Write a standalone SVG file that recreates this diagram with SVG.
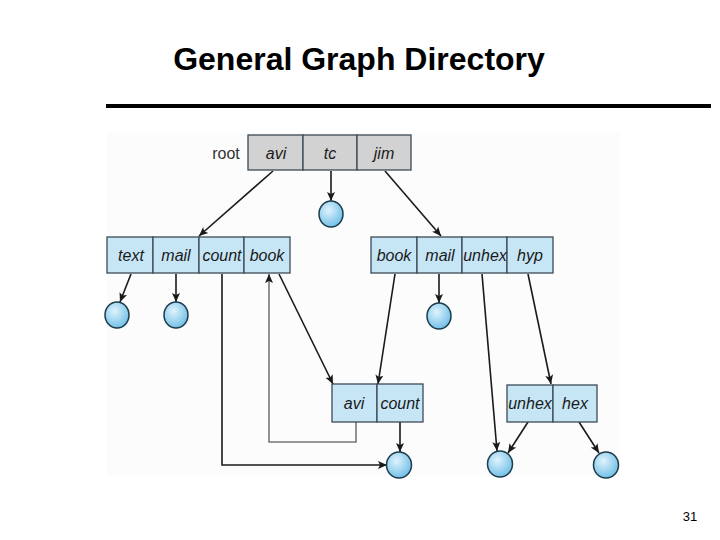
<svg xmlns="http://www.w3.org/2000/svg" width="720" height="540" viewBox="0 0 720 540">
<style>
.title{font-family:"Liberation Sans",Arial,sans-serif;font-weight:bold;font-size:32px;fill:#000}
.lbl{font-family:"Liberation Sans",Arial,sans-serif;font-style:italic;font-size:16px;fill:#1a1a1a}
.root{font-family:"Liberation Sans",Arial,sans-serif;font-size:16px;fill:#333}
.cell{fill:#c6e6f6;stroke:#3c4a55;stroke-width:1.3}
.rcell{fill:#d2d2d2;stroke:#3c4a55;stroke-width:1.3}
.file{fill:url(#g);stroke:#1d3c4c;stroke-width:1.5}
.con{fill:none;stroke:#1a1a1a;stroke-width:1.6}
.back{fill:none;stroke:#777;stroke-width:1.6}
</style>
<defs>
<radialGradient id="g" cx="0.4" cy="0.35" r="0.7">
<stop offset="0" stop-color="#dff3fd"/>
<stop offset="1" stop-color="#6cbde6"/>
</radialGradient>
<marker id="a" markerUnits="userSpaceOnUse" markerWidth="10" markerHeight="10" refX="9" refY="5" orient="auto">
<path d="M0,1 L9,5 L0,9 L2,5 Z" fill="#1a1a1a"/>
</marker>
</defs>
<rect width="720" height="540" fill="#fff"/>
<rect x="107" y="133" width="513" height="343" fill="#fcfcfc"/>
<text class="title" x="359" y="70" text-anchor="middle">General Graph Directory</text>
<rect x="106" y="104" width="605" height="4" fill="#000"/>

<g id="connectors">
<line class="con" x1="273" y1="171" x2="199" y2="236" marker-end="url(#a)"/>
<line class="con" x1="331" y1="171" x2="331" y2="201" marker-end="url(#a)"/>
<line class="con" x1="385" y1="171" x2="441" y2="236" marker-end="url(#a)"/>
<line class="con" x1="131" y1="274" x2="120" y2="302" marker-end="url(#a)"/>
<line class="con" x1="176" y1="274" x2="176" y2="302" marker-end="url(#a)"/>
<line class="con" x1="439" y1="274" x2="439" y2="303" marker-end="url(#a)"/>
<line class="con" x1="279" y1="274" x2="333" y2="384" marker-end="url(#a)"/>
<line class="con" x1="395" y1="274" x2="378" y2="384" marker-end="url(#a)"/>
<polyline class="back" points="356,422 356,442 269,442 269,274" marker-end="url(#a)"/>
<polyline class="con" points="222,274 222,465 387,465" marker-end="url(#a)"/>
<line class="con" x1="400" y1="422" x2="400" y2="452" marker-end="url(#a)"/>
<line class="con" x1="482" y1="274" x2="497" y2="451" marker-end="url(#a)"/>
<line class="con" x1="528" y1="274" x2="551" y2="384" marker-end="url(#a)"/>
<line class="con" x1="528" y1="422" x2="508" y2="453" marker-end="url(#a)"/>
<line class="con" x1="579" y1="422" x2="599" y2="453" marker-end="url(#a)"/>
</g>

<g id="root">
<text class="root" x="226" y="159" text-anchor="middle">root</text>
<rect class="rcell" x="248" y="135" width="55" height="35"/>
<rect class="rcell" x="303" y="135" width="54" height="35"/>
<rect class="rcell" x="357" y="135" width="54" height="35"/>
<text class="lbl" x="276" y="159" text-anchor="middle">avi</text>
<text class="lbl" x="330" y="159" text-anchor="middle">tc</text>
<text class="lbl" x="384" y="159" text-anchor="middle">jim</text>
</g>

<g id="avi-dir">
<rect class="cell" x="107" y="237" width="46" height="36"/>
<rect class="cell" x="153" y="237" width="46" height="36"/>
<rect class="cell" x="199" y="237" width="45" height="36"/>
<rect class="cell" x="244" y="237" width="46" height="36"/>
<text class="lbl" x="131" y="261" text-anchor="middle">text</text>
<text class="lbl" x="176" y="261" text-anchor="middle">mail</text>
<text class="lbl" x="222" y="261" text-anchor="middle">count</text>
<text class="lbl" x="267" y="261" text-anchor="middle">book</text>
</g>

<g id="jim-dir">
<rect class="cell" x="371" y="237" width="46" height="36"/>
<rect class="cell" x="417" y="237" width="45" height="36"/>
<rect class="cell" x="462" y="237" width="45" height="36"/>
<rect class="cell" x="507" y="237" width="46" height="36"/>
<text class="lbl" x="394" y="261" text-anchor="middle">book</text>
<text class="lbl" x="440" y="261" text-anchor="middle">mail</text>
<text class="lbl" x="485" y="261" text-anchor="middle">unhex</text>
<text class="lbl" x="530" y="261" text-anchor="middle">hyp</text>
</g>

<g id="book-dir">
<rect class="cell" x="332" y="384" width="45" height="38"/>
<rect class="cell" x="377" y="384" width="46" height="38"/>
<text class="lbl" x="354" y="409" text-anchor="middle">avi</text>
<text class="lbl" x="400" y="409" text-anchor="middle">count</text>
</g>

<g id="hyp-dir">
<rect class="cell" x="507" y="385" width="46" height="37"/>
<rect class="cell" x="553" y="385" width="44" height="37"/>
<text class="lbl" x="530" y="409" text-anchor="middle">unhex</text>
<text class="lbl" x="575" y="409" text-anchor="middle">hex</text>
</g>

<g id="files">
<ellipse id="f-tc" class="file" cx="331" cy="214" rx="12" ry="13"/>
<ellipse id="f-text" class="file" cx="117" cy="315" rx="12" ry="13"/>
<ellipse id="f-mail1" class="file" cx="176" cy="315" rx="12" ry="13"/>
<ellipse id="f-mail2" class="file" cx="439" cy="316" rx="12" ry="13"/>
<ellipse id="f-count" class="file" cx="399" cy="465" rx="12.5" ry="13"/>
<ellipse id="f-unhex" class="file" cx="500" cy="464" rx="12.5" ry="13"/>
<ellipse id="f-hex" class="file" cx="606" cy="465" rx="12.5" ry="13"/>
</g>

<text x="690" y="521" text-anchor="middle" style="font-family:'Liberation Sans',Arial,sans-serif;font-size:13px;fill:#000">31</text>
</svg>
